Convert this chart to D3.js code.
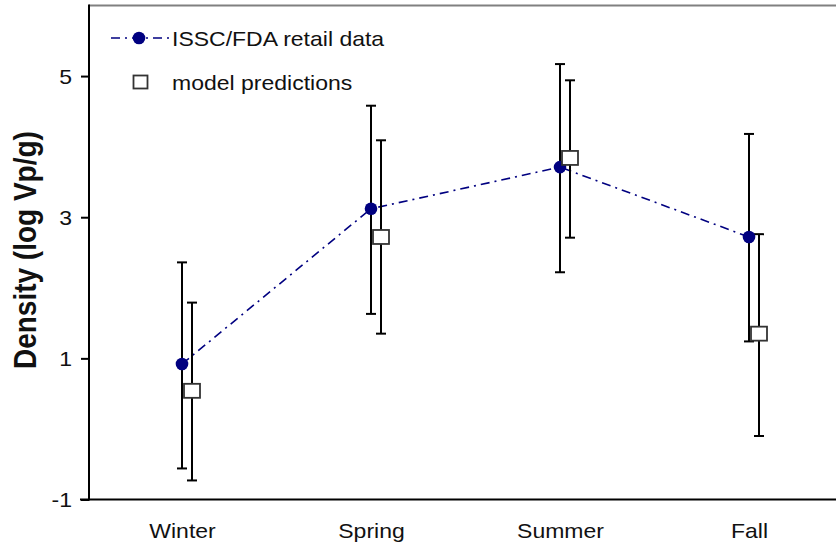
<!DOCTYPE html>
<html>
<head>
<meta charset="utf-8">
<script src="https://cdn.jsdelivr.net/npm/d3@7"></script>
<style>
  html, body { margin: 0; padding: 0; background: #fff; }
  svg { display: block; }
  text { font-family: "Liberation Sans", Arial, sans-serif; fill: #111; }
</style>
</head>
<body>
<svg id="chart" width="836" height="548"></svg>
<script>
// Seasonal Vibrio parahaemolyticus density: retail survey vs. model
const categories = ["Winter", "Spring", "Summer", "Fall"];
const retailMean = [0.92, 3.12, 3.71, 2.72];
const retailLow  = [-0.56, 1.63, 2.22, 1.24];
const retailHigh = [2.36, 4.58, 5.17, 4.18];
const modelMean  = [0.54, 2.72, 3.84, 1.35];
const modelLow   = [-0.73, 1.35, 2.71, -0.10];
const modelHigh  = [1.79, 4.09, 4.94, 2.76];
const yTicks = [-1, 1, 3, 5];
const seriesNames = ["ISSC/FDA retail data", "model predictions"];

const plotLeft = 89, plotRight = 836, plotTop = 5.5, plotBottom = 499.5;
const stretch = 1.15;           // glyphs are drawn slightly wide
const navy = "#000080";
const dashPattern = "9,5,2,5";

const svg = d3.select("#chart");

const x = d3.scalePoint().domain(categories).range([182, 749]);
const modelShift = 10;
const y = d3.scaleLinear().domain([-1, 6]).range([plotBottom, plotTop]);

const retail = categories.map((c, i) => ({ c, m: retailMean[i], lo: retailLow[i], hi: retailHigh[i] }));
const model  = categories.map((c, i) => ({ c, m: modelMean[i],  lo: modelLow[i],  hi: modelHigh[i] }));

// frame: grey top rule, black axes
svg.append("line")
  .attr("x1", plotLeft).attr("x2", plotRight).attr("y1", plotTop).attr("y2", plotTop)
  .attr("stroke", "#808080").attr("stroke-width", 2);

// y axis (plain hyphen for negatives)
const yAxis = svg.append("g")
  .attr("transform", `translate(${plotLeft},0)`)
  .call(d3.axisLeft(y).tickValues(yTicks).tickSize(8).tickFormat(d => String(d)));
yAxis.select(".domain").remove();
yAxis.append("line")
  .attr("x1", 0).attr("x2", 0).attr("y1", plotTop - 1).attr("y2", plotBottom + 1)
  .attr("stroke", "#000").attr("stroke-width", 2);
yAxis.selectAll(".tick line").attr("stroke", "#000").attr("stroke-width", 2);
yAxis.selectAll(".tick text")
  .attr("x", -17 / stretch)
  .attr("dy", "0.36em")
  .attr("transform", `scale(${stretch},1)`)
  .style("font-size", "20px")
  .style("font-family", "'Liberation Sans', Arial, sans-serif")
  .attr("fill", "#111");

// x axis
const xAxis = svg.append("g")
  .attr("transform", `translate(0,${plotBottom})`)
  .call(d3.axisBottom(x).tickSize(0).tickPadding(0));
xAxis.select(".domain").remove();
xAxis.append("line")
  .attr("x1", 80).attr("x2", plotRight).attr("y1", 0).attr("y2", 0)
  .attr("stroke", "#000").attr("stroke-width", 2);
xAxis.selectAll(".tick text")
  .attr("y", 39).attr("dy", 0)
  .attr("transform", `scale(${stretch},1)`)
  .style("font-size", "20px")
  .style("font-family", "'Liberation Sans', Arial, sans-serif")
  .attr("fill", "#111");

// y axis title, cut off at its upper end
svg.append("clipPath").attr("id", "titleClip")
  .append("rect").attr("x", 0).attr("y", 127).attr("width", 80).attr("height", 300);
svg.append("g").attr("clip-path", "url(#titleClip)")
  .append("text")
  .attr("transform", `translate(36,369) scale(${stretch},1) rotate(-90)`)
  .style("font-size", "28px")
  .style("font-weight", "bold")
  .text("Density (log Vp/g)");

// retail series line
svg.append("path")
  .datum(retail)
  .attr("fill", "none")
  .attr("stroke", navy)
  .attr("stroke-width", 1.6)
  .attr("stroke-dasharray", dashPattern)
  .attr("d", d3.line().x(d => x(d.c)).y(d => y(d.m)));

// error bars
function errorBars(data, dx) {
  const g = svg.append("g").attr("stroke", "#000").attr("stroke-width", 2);
  data.forEach(d => {
    const cx = x(d.c) + dx;
    g.append("line").attr("x1", cx).attr("x2", cx).attr("y1", y(d.hi)).attr("y2", y(d.lo));
    g.append("line").attr("x1", cx - 5).attr("x2", cx + 5).attr("y1", y(d.hi)).attr("y2", y(d.hi));
    g.append("line").attr("x1", cx - 5).attr("x2", cx + 5).attr("y1", y(d.lo)).attr("y2", y(d.lo));
  });
}
errorBars(retail, 0);
errorBars(model, modelShift);

// retail points
svg.append("g").selectAll("circle").data(retail).join("circle")
  .attr("cx", d => x(d.c)).attr("cy", d => y(d.m))
  .attr("r", 6.3)
  .attr("fill", navy);

// model points
svg.append("g").selectAll("rect").data(model).join("rect")
  .attr("x", d => x(d.c) + modelShift - 8).attr("y", d => y(d.m) - 7)
  .attr("width", 16).attr("height", 14)
  .attr("fill", "#fff").attr("stroke", "#333").attr("stroke-width", 1.8);

// legend
const legend = svg.append("g");
legend.append("line")
  .attr("x1", 111).attr("x2", 170).attr("y1", 38).attr("y2", 38)
  .attr("stroke", navy).attr("stroke-width", 1.6).attr("stroke-dasharray", dashPattern);
legend.append("circle").attr("cx", 139).attr("cy", 38).attr("r", 6.3).attr("fill", navy);
legend.append("rect")
  .attr("x", 133.5).attr("y", 75.5).attr("width", 14).attr("height", 13)
  .attr("fill", "#fff").attr("stroke", "#333").attr("stroke-width", 1.8);
legend.selectAll("text").data(seriesNames).join("text")
  .attr("transform", (d, i) => `translate(172,${i === 0 ? 46 : 89.5}) scale(${stretch},1)`)
  .style("font-size", "20px")
  .text(d => d);
</script>
</body>
</html>
